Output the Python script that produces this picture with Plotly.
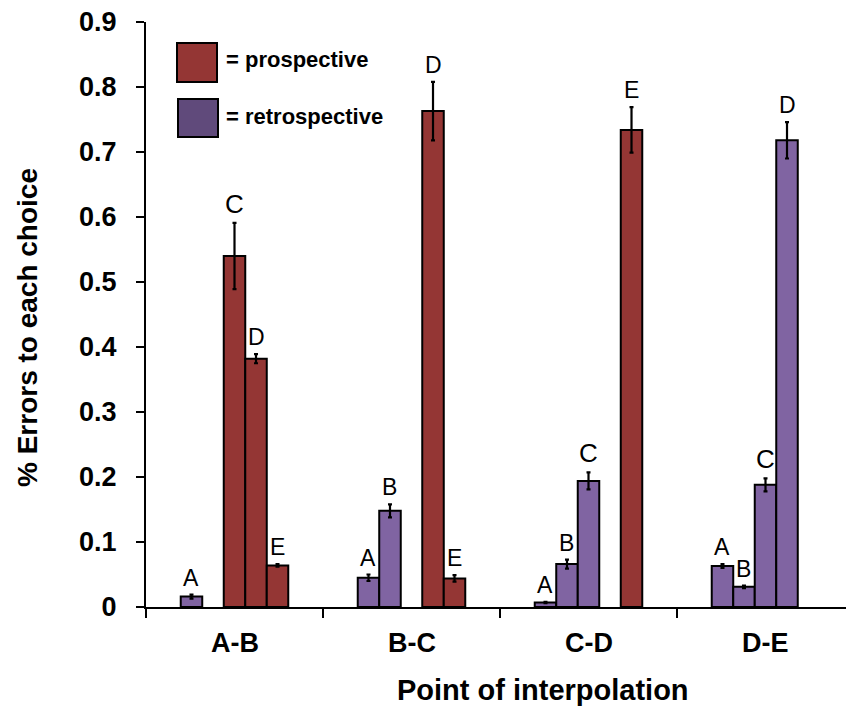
import plotly.graph_objects as go

# ---- data -------------------------------------------------------------
groups = ["A-B", "B-C", "C-D", "D-E"]
choices = ["A", "B", "C", "D", "E"]

# mean proportion of errors to each choice (None = interpolation endpoint)
ab_vals = [0.016, None, 0.540, 0.382, 0.064]
bc_vals = [0.045, 0.148, None, 0.763, 0.044]
cd_vals = [0.007, 0.066, 0.194, None, 0.734]
de_vals = [0.063, 0.031, 0.188, 0.718, None]

ab_err = [0.003, None, 0.051, 0.007, 0.002]
bc_err = [0.005, 0.010, None, 0.045, 0.005]
cd_err = [0.001, 0.007, 0.013, None, 0.035]
de_err = [0.003, 0.002, 0.010, 0.028, None]

# "P" = prospective, "R" = retrospective
ab_kind = ["R", None, "P", "P", "P"]
bc_kind = ["R", "R", None, "P", "P"]
cd_kind = ["R", "R", "R", None, "P"]
de_kind = ["R", "R", "R", "R", None]

y_ticks = [0, 0.1, 0.2, 0.3, 0.4, 0.5, 0.6, 0.7, 0.8, 0.9]
y_tick_text = ["0", "0.1", "0.2", "0.3", "0.4", "0.5", "0.6", "0.7", "0.8", "0.9"]

# ---- style ------------------------------------------------------------
RED = "#943634"
PURPLE = "#8064A2"
PURPLE_KEY = "#604A7B"
FONT = "Liberation Sans, Arial, sans-serif"

W, H = 846, 706
L, T, B = 146, 22, 99
PLOT_W = W - L
PLOT_H = H - T - B
CAT_PX = 177.0
SLOT = 0.1215


def px_x(p):
    return (p - L) / PLOT_W


def px_y(p):
    return (H - B - p) / PLOT_H


all_vals = [ab_vals, bc_vals, cd_vals, de_vals]
all_err = [ab_err, bc_err, cd_err, de_err]
all_kind = [ab_kind, bc_kind, cd_kind, de_kind]

series = {"P": {"x": [], "y": [], "e": []}, "R": {"x": [], "y": [], "e": []}}
labels = []
for gi, (vals, errs, kinds) in enumerate(zip(all_vals, all_err, all_kind)):
    for ci, (v, e, k) in enumerate(zip(vals, errs, kinds)):
        if v is None:
            continue
        xpos = gi + 0.5 + (ci - 2) * SLOT
        series[k]["x"].append(xpos)
        series[k]["y"].append(v)
        series[k]["e"].append(e)
        labels.append((xpos, v + e, choices[ci]))

fig = go.Figure()
for key, name, color in [("R", "retrospective", PURPLE), ("P", "prospective", RED)]:
    s = series[key]
    fig.add_trace(go.Bar(
        x=s["x"], y=s["y"], name=name, width=SLOT,
        marker=dict(color=color, line=dict(color="black", width=2)),
        error_y=dict(type="data", array=s["e"], visible=True,
                     color="black", thickness=2.2, width=2),
        showlegend=False,
    ))

annotations = []
for xpos, top, letter in labels:
    annotations.append(dict(
        x=xpos, y=top, xref="x", yref="y", text=letter, showarrow=False,
        yanchor="bottom", yshift=2,
        font=dict(family=FONT, size=26 if letter == "C" else 23, color="black"),
    ))

# category labels under the axis
for gi, g in enumerate(groups):
    annotations.append(dict(
        x=gi + 0.5, y=0, xref="x", yref="paper", text=g, showarrow=False,
        yanchor="middle", yshift=-36,
        font=dict(family=FONT, size=27, color="black", weight="bold"),
    ))

# axis titles
annotations.append(dict(
    x=px_x(543), y=px_y(690), xref="paper", yref="paper",
    text="Point of interpolation", showarrow=False,
    xanchor="center", yanchor="middle",
    font=dict(family=FONT, size=29, color="black", weight="bold"),
))
annotations.append(dict(
    x=px_x(28), y=px_y(328), xref="paper", yref="paper",
    text="% Errors to each choice", showarrow=False, textangle=-90,
    xanchor="center", yanchor="middle",
    font=dict(family=FONT, size=28, color="black", weight="bold"),
))

# key
annotations.append(dict(
    x=px_x(224), y=px_y(60), xref="paper", yref="paper",
    text="= prospective", showarrow=False, xanchor="left", yanchor="middle",
    font=dict(family=FONT, size=22, color="black", weight="bold"),
))
annotations.append(dict(
    x=px_x(224), y=px_y(117), xref="paper", yref="paper",
    text="= retrospective", showarrow=False, xanchor="left", yanchor="middle",
    font=dict(family=FONT, size=22, color="black", weight="bold"),
))

shapes = [
    dict(type="rect", xref="paper", yref="paper",
         x0=px_x(177), x1=px_x(217), y0=px_y(82), y1=px_y(43),
         fillcolor=RED, line=dict(color="black", width=2)),
    dict(type="rect", xref="paper", yref="paper",
         x0=px_x(178), x1=px_x(218), y0=px_y(137), y1=px_y(99),
         fillcolor=PURPLE_KEY, line=dict(color="black", width=2)),
]

fig.update_layout(
    width=W, height=H,
    margin=dict(l=L, r=0, t=T, b=B, pad=0),
    paper_bgcolor="white", plot_bgcolor="white",
    barmode="overlay",
    annotations=annotations,
    shapes=shapes,
    xaxis=dict(
        range=[0, PLOT_W / CAT_PX], tickvals=[0, 1, 2, 3],
        showticklabels=False, ticks="outside", ticklen=9, tickwidth=2,
        tickcolor="black", showline=True, linecolor="black", linewidth=2,
        showgrid=False, zeroline=False, fixedrange=True,
    ),
    yaxis=dict(
        range=[0, 0.9], tickvals=y_ticks, ticktext=y_tick_text,
        ticks="outside", ticklen=8, tickwidth=2, tickcolor="black",
        showline=True, linecolor="black", linewidth=2,
        showgrid=False, zeroline=False, ticklabelstandoff=14,
        tickfont=dict(family=FONT, size=27, color="black", weight="bold"),
    ),
)

fig.write_html("out.html")
